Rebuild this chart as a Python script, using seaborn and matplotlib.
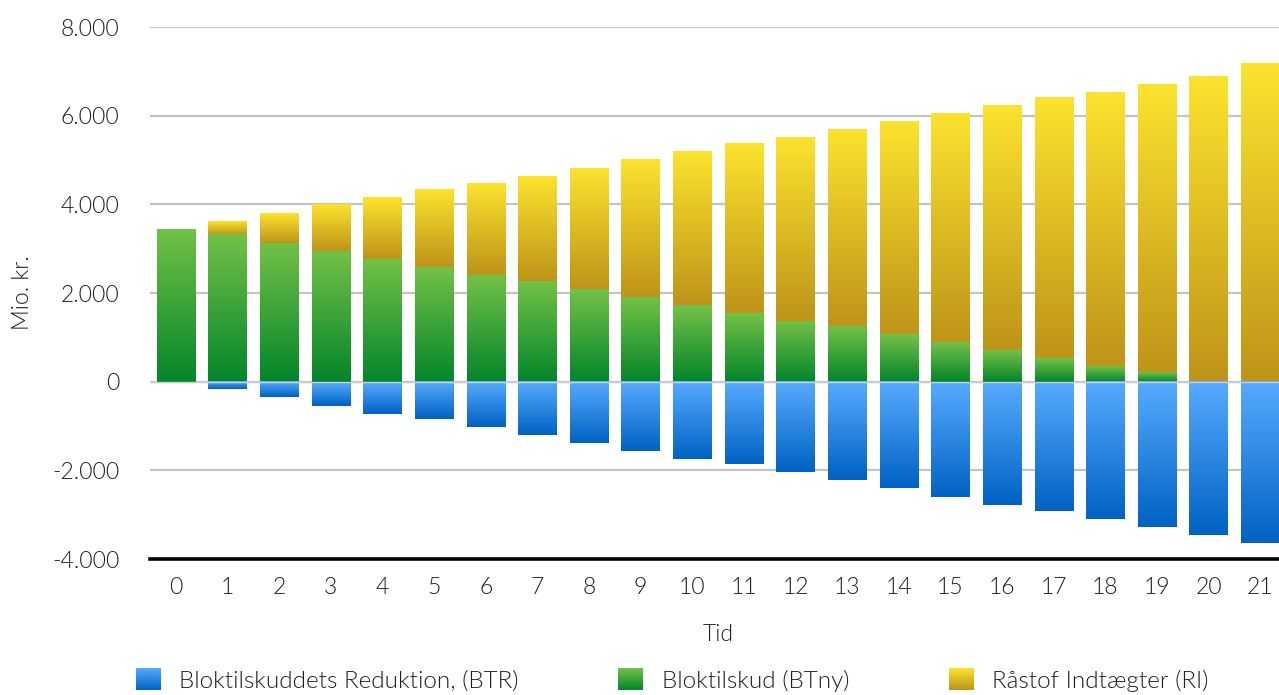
import numpy as np
import pandas as pd
import matplotlib
matplotlib.use("Agg")
import matplotlib.pyplot as plt
import seaborn as sns
from matplotlib.colors import LinearSegmentedColormap
from matplotlib.ticker import FuncFormatter, FixedLocator
from matplotlib.legend_handler import HandlerBase
from matplotlib.image import BboxImage
from matplotlib.transforms import Bbox, TransformedBbox
from matplotlib.patches import Rectangle

# --- data (Mio. kr.) ---
tid = [str(i) for i in range(22)]
btr = [0, -175, -356, -538, -720, -841, -1023, -1197, -1379, -1561, -1742,
       -1856, -2038, -2220, -2405, -2591, -2773, -2909, -3091, -3273, -3455, -3636]
btny = [3432, 3318, 3129, 2947, 2765, 2583, 2402, 2273, 2091, 1909, 1727,
        1545, 1364, 1258, 1068, 886, 705, 523, 341, 205, 0, 0]
ri = [0, 296, 666, 1038, 1394, 1757, 2053, 2363, 2727, 3091, 3455,
      3819, 4136, 4424, 4796, 5159, 5522, 5886, 6182, 6500, 6886, 7182]
labels = ["Bloktilskuddets Reduktion, (BTR)", "Bloktilskud (BTny)", "Råstof Indtægter (RI)"]
y_ticks = [-4000, -2000, 0, 2000, 4000, 6000, 8000]

# vertical gradients (bottom colour, top colour)
grad_blue = LinearSegmentedColormap.from_list("btr", ["#0062C3", "#57ABFF"])
grad_green = LinearSegmentedColormap.from_list("btny", ["#03852A", "#73C147"])
grad_gold = LinearSegmentedColormap.from_list("ri", ["#BE9419", "#FCE32E"])

sns.set_theme(style="white")
plt.rcParams["font.family"] = ["Lato", "DejaVu Sans"]
plt.rcParams["axes.unicode_minus"] = False
text_color = "#1E1E1E"
fs = 16.5
fs_leg = 17.5
fw = 300

df = pd.DataFrame({"Tid": tid, "BTR": btr, "BTny": btny, "RI": ri})
df["top"] = df["BTny"] + df["RI"]

fig = plt.figure(figsize=(12.79, 6.95), dpi=100)
W, H = 1279, 695
ax = fig.add_axes([150 / W, 1 - 559 / H, (1286 - 150) / W, (559 - 27) / H])

ramp = np.linspace(0, 1, 256).reshape(-1, 1)


def gradient_bars(values, lows, highs, cmap):
    n0 = len(ax.patches)
    sns.barplot(data=df, x="Tid", y=values, order=tid, color="white",
                width=0.74, ax=ax, errorbar=None, zorder=2)
    for p, lo, hi in zip(ax.patches[n0:], lows, highs):
        p.set_facecolor("none")
        p.set_edgecolor("none")
        if hi - lo == 0:
            continue
        x0 = p.get_x()
        x1 = x0 + p.get_width()
        ax.imshow(ramp, extent=[x0, x1, lo, hi], origin="lower", aspect="auto",
                  cmap=cmap, interpolation="bicubic", zorder=2)


gradient_bars("top", df["BTny"], df["top"], grad_gold)
gradient_bars("BTny", np.zeros(len(df)), df["BTny"], grad_green)
gradient_bars("BTR", df["BTR"], np.zeros(len(df)), grad_blue)

ax.set_xlim(-0.5, 21.5)
ax.set_ylim(-4000, 8000)
ax.yaxis.set_major_locator(FixedLocator(y_ticks))
ax.yaxis.set_major_formatter(FuncFormatter(lambda v, _: f"{v:,.0f}".replace(",", ".")))
ax.set_axisbelow(True)
ax.yaxis.grid(True, color="#C4C4C4", lw=1.6)
ax.xaxis.grid(False)
ax.axhline(0, color="#CFCFCF", lw=1.0, zorder=3)

for s in ["top", "right", "left"]:
    ax.spines[s].set_visible(False)
ax.spines["bottom"].set_color("#000000")
ax.spines["bottom"].set_linewidth(2.6)
ax.spines["bottom"].set_zorder(4)

ax.tick_params(axis="y", length=0, pad=22, labelsize=fs, labelcolor=text_color)
ax.tick_params(axis="x", length=0, pad=13, labelsize=fs, labelcolor=text_color)
for t in ax.get_xticklabels() + ax.get_yticklabels():
    t.set_fontweight(fw)

ax.set_xlabel("Tid", fontsize=fs, color=text_color, fontweight=fw)
ax.set_ylabel("Mio. kr.", fontsize=fs, color=text_color, fontweight=fw)
ax.xaxis.set_label_coords(0.5, -0.123)
ax.yaxis.set_label_coords((33 - 150) / 1136, 0.5)


class GradientHandler(HandlerBase):
    def __init__(self, cmap):
        super().__init__()
        self.cmap = cmap

    def create_artists(self, legend, orig_handle, xdescent, ydescent,
                       width, height, fontsize, trans):
        bb = Bbox.from_bounds(-xdescent, -ydescent, width, height)
        img = BboxImage(TransformedBbox(bb, trans), cmap=self.cmap,
                        interpolation="bicubic", origin="lower")
        img.set_data(ramp)
        return [img]


handles = [Rectangle((0, 0), 1, 1) for _ in labels]
hmap = {h: GradientHandler(c) for h, c in zip(handles, [grad_blue, grad_green, grad_gold])}
leg = fig.legend(handles, labels, handler_map=hmap, loc="center left",
                 bbox_to_anchor=(136 / W, 1 - 680 / H), ncol=3, frameon=False,
                 handlelength=1.0, handleheight=1.0, handletextpad=0.78,
                 columnspacing=4.1, borderpad=0, borderaxespad=0,
                 prop={"size": fs_leg, "weight": fw})
for t in leg.get_texts():
    t.set_color(text_color)

fig.savefig("out.png", dpi=100)
